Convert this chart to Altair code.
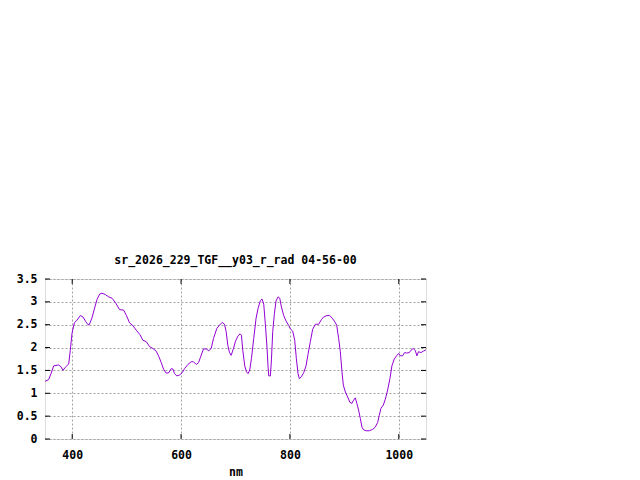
import altair as alt
import pandas as pd

wavelength = [350, 356.8, 361, 366, 375, 379.4, 383, 387.4, 393.5, 396.5, 399.6, 403.9, 408.8, 414.9,
              419.8, 424.7, 429, 431.4, 436.3, 440.6, 445.5, 450.4, 454.6, 460.8, 466.9, 473, 479.1,
              487, 494.4, 499.3, 505.4, 511.5, 517.7, 524, 529.9, 536, 542.2, 548.3, 554.4, 559.3,
              563.6, 567.8, 572.7, 577.6, 581.9, 585, 588, 592.3, 597.2, 602.1, 606.4, 612.5, 618.6,
              622.9, 627.8, 632.1, 635.7, 641.2, 646.1, 651, 655.3, 659.6, 665.7, 670.6, 675.5, 679.8,
              682.8, 685.9, 689, 692, 696.3, 700, 704.8, 708.5, 710.9, 713.4, 717, 720.1, 723.1, 726.2,
              729.3, 733.5, 737.8, 741.5, 745.8, 748.8, 751.9, 755, 758, 759.8, 761.1, 764.1, 766,
              768.4, 771.5, 774.5, 778.2, 781.3, 784.3, 788.6, 792.9, 797.8, 800.8, 805.1, 808.8,
              811.8, 814.9, 817.3, 821, 825.3, 829.6, 833.2, 837.5, 841.8, 846.7, 852.8, 857.7, 862,
              868.1, 873, 877.3, 881.6, 885.9, 889.5, 892.6, 895.6, 898.1, 901.8, 906, 910.3, 914,
              917, 920.1, 923.2, 926.2, 929.3, 932.3, 935.4, 939.7, 945.8, 951.9, 956.8, 961.1, 964.2,
              967.2, 971.5, 975.2, 979.5, 983.7, 987.4, 991.7, 996, 999.6, 1002.7, 1007, 1010.6,
              1014.3, 1019.2, 1022.3, 1026.5, 1030.2, 1033.3, 1036.3, 1040.6, 1044.9, 1049.8]
radiance = [1.26, 1.30, 1.43, 1.60, 1.62, 1.58, 1.50, 1.57, 1.64, 1.94, 2.31, 2.54, 2.60, 2.70,
            2.67, 2.57, 2.50, 2.50, 2.65, 2.84, 3.05, 3.17, 3.19, 3.16, 3.11, 3.08, 2.99,
            2.83, 2.82, 2.71, 2.54, 2.48, 2.38, 2.29, 2.16, 2.13, 2.02, 1.98, 1.92, 1.80,
            1.67, 1.53, 1.44, 1.45, 1.54, 1.53, 1.43, 1.38, 1.40, 1.45, 1.54, 1.63, 1.69,
            1.69, 1.63, 1.67, 1.79, 1.97, 1.97, 1.93, 1.98, 2.20, 2.42, 2.49, 2.55, 2.51,
            2.35, 2.05, 1.89, 1.83, 1.98, 2.14, 2.26, 2.30, 2.27, 1.94, 1.60, 1.47, 1.43, 1.51,
            1.76, 2.20, 2.64, 2.86, 3.03, 3.06, 2.95, 2.49, 1.98, 1.58, 1.38, 1.38, 1.73,
            2.35, 2.75, 3.02, 3.11, 3.08, 2.89, 2.70, 2.58, 2.48, 2.41, 2.36, 2.16,
            1.76, 1.43, 1.32, 1.36, 1.45, 1.60, 1.85, 2.13, 2.40, 2.51, 2.51, 2.61, 2.67,
            2.70, 2.70, 2.65, 2.58, 2.49, 2.20, 1.91, 1.47, 1.18, 1.03, 0.92, 0.80, 0.78,
            0.85, 0.90, 0.77, 0.63, 0.45, 0.26, 0.20, 0.18, 0.18, 0.21, 0.26, 0.36, 0.52,
            0.67, 0.74, 0.87, 1.07, 1.32, 1.60, 1.75, 1.82, 1.87, 1.82, 1.82, 1.89,
            1.88, 1.89, 1.94, 1.98, 1.94, 1.82, 1.91, 1.89, 1.92, 1.95]

x_ticks = [400, 600, 800, 1000]
y_ticks = [0, 0.5, 1, 1.5, 2, 2.5, 3, 3.5]
title_text = "sr_2026_229_TGF__y03_r_rad 04-56-00"
x_label = "nm"

FONT = "DejaVu Sans Mono"
FS = 11.5
W, H = 381, 160

df = pd.DataFrame({"nm": wavelength, "val": radiance})
xt = pd.DataFrame({"nm": x_ticks})
yt = pd.DataFrame({"val": y_ticks})

xscale = alt.Scale(domain=[350, 1050], nice=False, zero=False)
yscale = alt.Scale(domain=[0, 3.5], nice=False)

xaxis = alt.Axis(values=x_ticks, title=x_label, format="d", grid=True, gridColor="#a0a0a0",
                 gridDash=[2, 2], gridWidth=1, ticks=False, tickSize=0, domain=False, labelPadding=10,
                 labelFont=FONT, labelFontSize=FS, labelFontWeight="bold", labelColor="black",
                 titleFont=FONT, titleFontSize=FS, titleFontWeight="bold", titleColor="black",
                 titleY=36.5, titleBaseline="alphabetic", labelFlush=False, labelOverlap=False)
yaxis = alt.Axis(values=y_ticks, title=None, grid=True, gridColor="#a0a0a0", gridDash=[2, 2],
                 gridWidth=1, ticks=False, tickSize=0, domain=False, labelPadding=8,
                 format="~g", labelFont=FONT, labelFontSize=FS, labelFontWeight="bold",
                 labelColor="black", labelFlush=False, labelOverlap=False)

line = alt.Chart(df).mark_line(color="#9400D3", strokeWidth=1, clip=True).encode(
    x=alt.X("nm:Q", scale=xscale, axis=xaxis),
    y=alt.Y("val:Q", scale=yscale, axis=yaxis),
)

xt_bottom = alt.Chart(xt).mark_rule(color="black", strokeWidth=1).encode(
    x=alt.X("nm:Q", scale=xscale, axis=xaxis), y=alt.value(H), y2=alt.value(H - 5))
xt_top = alt.Chart(xt).mark_rule(color="black", strokeWidth=1).encode(
    x=alt.X("nm:Q", scale=xscale, axis=xaxis), y=alt.value(0), y2=alt.value(5))
yt_left = alt.Chart(yt).mark_rule(color="black", strokeWidth=1).encode(
    y=alt.Y("val:Q", scale=yscale, axis=yaxis), x=alt.value(0), x2=alt.value(5))
yt_right = alt.Chart(yt).mark_rule(color="black", strokeWidth=1).encode(
    y=alt.Y("val:Q", scale=yscale, axis=yaxis), x=alt.value(W), x2=alt.value(W - 5))

chart = alt.layer(line, xt_bottom, xt_top, yt_left, yt_right).properties(
    width=W, height=H,
    title=alt.TitleParams(title_text, font=FONT, fontSize=FS, fontWeight="bold", color="black",
                          anchor="middle", baseline="alphabetic", offset=1, dy=3),
    autosize=alt.AutoSizeParams(type="none"),
    padding={"left": 37, "top": 271, "right": 200, "bottom": 42},
).configure_view(stroke="black", strokeWidth=1).configure(background="white")

chart.save("out.html", embed_options={"renderer": "svg", "actions": False})
